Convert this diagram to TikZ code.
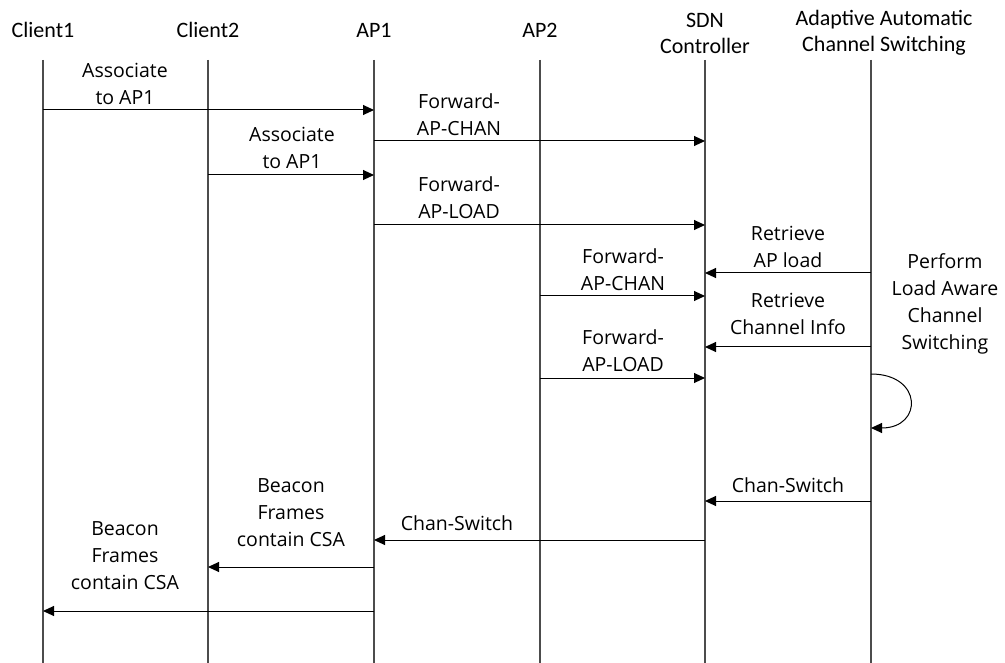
\documentclass[tikz,border=0pt]{standalone}
\usepackage{fontspec}
\setmainfont{Open Sans}
\newfontfamily\hdr{Carlito}
\usetikzlibrary{arrows.meta}
\begin{document}
\begin{tikzpicture}[x=1pt,y=-1pt,
 life/.style={draw=black!70, line width=1.3pt},
 msg/.style={draw=black, line width=1pt, -{Triangle[length=11pt,width=10pt]}},
 lbl/.style={align=center, font=\fontsize{19.5}{27}\selectfont, inner sep=0pt},
 head/.style={align=center, font=\hdr\fontsize{22}{26}\selectfont, inner sep=0pt}]
\useasboundingbox (0,0) rectangle (1005,663);
% headers
\node[head] (hc1) at (43,30) {Client1};
\node[head] (hc2) at (208,30) {Client2};
\node[head] (hap1) at (374,30) {AP1};
\node[head] (hap2) at (540,30) {AP2};
\node[head] (hsdn) at (705,33) {SDN\\Controller};
\node[head] (hacs) at (884,33) {Adaptive Automatic\\Channel Switching};
% lifelines
\foreach \n/\x in {c1/43,c2/208,a1/374,a2/540,sd/705,ac/871}{
  \coordinate (\n t) at (\x,60);
  \coordinate (\n b) at (\x,663);
  \draw[life] (\n t) -- (\n b);
}
% message endpoints
\coordinate (m1s) at (43,110);  \coordinate (m1e) at (374,110);
\coordinate (m2s) at (374,141); \coordinate (m2e) at (705,141);
\coordinate (m3s) at (208,175); \coordinate (m3e) at (374,175);
\coordinate (m4s) at (374,225); \coordinate (m4e) at (705,225);
\coordinate (m5s) at (871,273); \coordinate (m5e) at (705,273);
\coordinate (m6s) at (540,296); \coordinate (m6e) at (705,296);
\coordinate (m7s) at (871,347); \coordinate (m7e) at (705,347);
\coordinate (m8s) at (540,378); \coordinate (m8e) at (705,378);
\coordinate (lps) at (871,374); \coordinate (lpe) at (871,428);
\coordinate (m9s) at (871,501); \coordinate (m9e) at (705,501);
\coordinate (m10s) at (705,540); \coordinate (m10e) at (374,540);
\coordinate (m11s) at (374,567); \coordinate (m11e) at (208,567);
\coordinate (m12s) at (374,611); \coordinate (m12e) at (43,611);
% arrows
\draw[msg] (m1s) -- (m1e);
\draw[msg] (m2s) -- (m2e);
\draw[msg] (m3s) -- (m3e);
\draw[msg] (m4s) -- (m4e);
\draw[msg] (m5s) -- (m5e);
\draw[msg] (m6s) -- (m6e);
\draw[msg] (m7s) -- (m7e);
\draw[msg] (m8s) -- (m8e);
\draw[msg] (lps) .. controls (923,374) and (923,428) .. (lpe);
\draw[msg] (m9s) -- (m9e);
\draw[msg] (m10s) -- (m10e);
\draw[msg] (m11s) -- (m11e);
\draw[msg] (m12s) -- (m12e);
% labels
\node[lbl] (l1) at (125,84) {Associate\\to AP1};
\node[lbl] (l2) at (459,115) {Forward-\\AP-CHAN};
\node[lbl] (l3) at (292,148) {Associate\\to AP1};
\node[lbl] (l4) at (459,198) {Forward-\\AP-LOAD};
\node[lbl] (l5) at (788,247) {Retrieve\\AP load};
\node[lbl] (l6) at (623,270) {Forward-\\AP-CHAN};
\node[lbl] (l7) at (788,314) {Retrieve\\Channel Info};
\node[lbl] (l8) at (623,351) {Forward-\\AP-LOAD};
\node[lbl] (l9) at (945,304) {Perform\\Load Aware\\Channel\\Switching};
\node[lbl] (l10) at (788,485) {Chan-Switch};
\node[lbl] (l11) at (457,523) {Chan-Switch};
\node[lbl] (l12) at (291,513) {Beacon\\Frames\\contain CSA};
\node[lbl] (l13) at (125,556) {Beacon\\Frames\\contain CSA};
\end{tikzpicture}
\end{document}
